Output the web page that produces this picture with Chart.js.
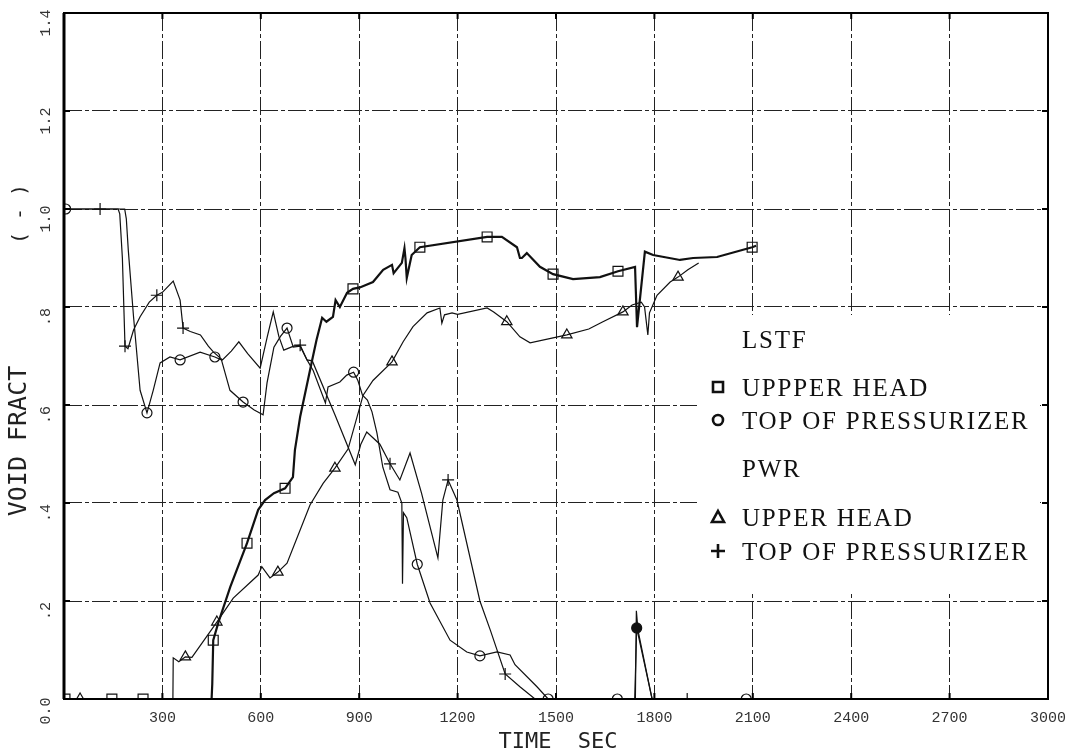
<!DOCTYPE html>
<html>
<head>
<meta charset="utf-8">
<script src="https://cdn.jsdelivr.net/npm/chart.js@4"></script>
<style>
  html, body { margin: 0; padding: 0; background: #fff; }
  canvas { display: block; }
</style>
</head>
<body>
<canvas id="voidChart" width="1072" height="753"></canvas>
<script>
// axis ticks
const xTicks = [0, 300, 600, 900, 1200, 1500, 1800, 2100, 2400, 2700, 3000];
const yTicks = [0, 0.2, 0.4, 0.6, 0.8, 1.0, 1.2, 1.4];

// LSTF upper head (squares)
const lstfHeadT = [0, 3, 146, 241, 450, 452, 455, 471, 507, 558, 592, 613, 640, 674, 698, 704, 720, 756, 770, 787, 800, 820, 828, 841, 863, 881, 902, 942, 973, 1000, 1005, 1030, 1038, 1041, 1045, 1060, 1085, 1290, 1335, 1381, 1390, 1396, 1411, 1451, 1491, 1552, 1634, 1689, 1741, 1747, 1771, 1796, 1878, 1918, 1991, 2098, 2110];
const lstfHeadV = [0, 0, 0, 0, 0, 0.03, 0.12, 0.157, 0.229, 0.318, 0.386, 0.406, 0.42, 0.43, 0.453, 0.508, 0.576, 0.69, 0.733, 0.778, 0.77, 0.78, 0.814, 0.80, 0.829, 0.837, 0.84, 0.851, 0.876, 0.886, 0.869, 0.89, 0.92, 0.90, 0.859, 0.906, 0.922, 0.943, 0.943, 0.922, 0.90, 0.90, 0.91, 0.882, 0.867, 0.857, 0.861, 0.873, 0.882, 0.759, 0.913, 0.906, 0.896, 0.90, 0.902, 0.922, 0.925];
const lstfHeadMarks = [3, 146, 241, 455, 558, 674, 881, 1085, 1290, 1491, 1689, 2098];

// LSTF top of pressurizer (circles)
const lstfPrzT = [0, 5, 185, 190, 196, 212, 232, 253, 272, 293, 323, 354, 415, 460, 480, 506, 546, 580, 607, 619, 640, 660, 680, 699, 720, 741, 760, 797, 805, 841, 862, 883, 896, 910, 925, 939, 954, 972, 994, 1018, 1030, 1032, 1035, 1045, 1077, 1116, 1177, 1228, 1268, 1320, 1360, 1375, 1442, 1476, 1687, 1740, 1746, 1793, 2080, 2100];
const lstfPrzV = [1, 1, 1, 0.98, 0.916, 0.78, 0.63, 0.584, 0.63, 0.686, 0.698, 0.692, 0.708, 0.698, 0.692, 0.63, 0.606, 0.59, 0.58, 0.645, 0.718, 0.74, 0.757, 0.718, 0.72, 0.692, 0.67, 0.604, 0.637, 0.647, 0.661, 0.667, 0.65, 0.62, 0.61, 0.586, 0.543, 0.473, 0.427, 0.422, 0.40, 0.235, 0.38, 0.37, 0.275, 0.196, 0.12, 0.096, 0.088, 0.096, 0.09, 0.07, 0.025, 0, 0, 0, 0.145, 0, 0, 0];
const lstfPrzMarks = [5, 253, 354, 460, 546, 680, 883, 1077, 1268, 1476, 1687, 1746, 2080];

// PWR upper head (triangles)
const pwrHeadT = [0, 49, 332, 333, 350, 370, 390, 466, 516, 592, 603, 628, 652, 680, 750, 790, 826, 866, 912, 942, 1000, 1034, 1064, 1107, 1146, 1152, 1160, 1183, 1200, 1290, 1310, 1350, 1390, 1421, 1491, 1533, 1600, 1643, 1704, 1732, 1760, 1770, 1780, 1785, 1808, 1848, 1872, 1902, 1935];
const pwrHeadV = [0, 0, 0, 0.084, 0.076, 0.086, 0.085, 0.157, 0.206, 0.253, 0.27, 0.247, 0.259, 0.277, 0.396, 0.44, 0.471, 0.51, 0.62, 0.65, 0.688, 0.729, 0.76, 0.788, 0.798, 0.767, 0.784, 0.788, 0.785, 0.798, 0.79, 0.77, 0.739, 0.727, 0.737, 0.743, 0.755, 0.77, 0.79, 0.804, 0.81, 0.80, 0.743, 0.788, 0.824, 0.851, 0.861, 0.876, 0.89];
const pwrHeadMarks = [49, 370, 466, 652, 826, 1000, 1350, 1533, 1704, 1872];

// PWR top of pressurizer (plus)
const pwrPrzT = [0, 110, 165, 170, 178, 186, 195, 212, 232, 260, 283, 300, 333, 354, 363, 385, 416, 440, 456, 483, 510, 533, 560, 598, 620, 638, 655, 670, 700, 720, 741, 757, 826, 888, 905, 923, 963, 994, 1024, 1055, 1090, 1140, 1155, 1171, 1198, 1268, 1300, 1345, 1390, 1436, 1742, 1745, 1750, 1793, 1900, 1950];
const pwrPrzV = [1, 1, 1, 0.99, 0.9, 0.72, 0.715, 0.753, 0.78, 0.81, 0.824, 0.83, 0.853, 0.814, 0.757, 0.75, 0.743, 0.72, 0.708, 0.692, 0.71, 0.729, 0.705, 0.675, 0.74, 0.79, 0.74, 0.712, 0.72, 0.722, 0.692, 0.69, 0.58, 0.478, 0.52, 0.545, 0.52, 0.48, 0.447, 0.502, 0.42, 0.288, 0.406, 0.447, 0.406, 0.2, 0.14, 0.051, 0.025, 0, 0, 0.18, 0.14, 0, 0, 0];
const pwrPrzMarks = [110, 186, 283, 363, 720, 994, 1171, 1345, 1900];

const legendRows = [
  { text: "LSTF", mark: null },
  { text: "UPPPER HEAD", mark: "rect" },
  { text: "TOP OF PRESSURIZER", mark: "circle" },
  { text: "PWR", mark: null },
  { text: "UPPER HEAD", mark: "triangle" },
  { text: "TOP OF PRESSURIZER", mark: "cross" }
];

function toPoints(ts, vs) {
  return ts.map((t, i) => ({ x: t, y: vs[i] }));
}

function series(label, ts, vs, marks, style, radius, width) {
  return {
    label,
    data: toPoints(ts, vs),
    showLine: true,
    borderColor: "#111",
    borderWidth: width,
    tension: 0,
    pointStyle: style,
    pointRadius: ctx => (ctx.raw && marks.includes(ctx.raw.x)) ? radius : 0,
    pointHoverRadius: 0,
    pointBorderColor: "#111",
    pointBorderWidth: 1.2,
    pointBackgroundColor: ctx => (ctx.raw && ctx.raw.x === 1746 && style === "circle") ? "#111" : "rgba(0,0,0,0)"
  };
}

const paperPlugin = {
  id: "paper",
  beforeDraw(chart) {
    const c = chart.ctx;
    c.save();
    c.fillStyle = "#fff";
    c.fillRect(0, 0, chart.width, chart.height);
    c.restore();
  },
  beforeDatasetsDraw(chart) {
    // legend box hides the grid behind it
    const c = chart.ctx;
    c.save();
    c.fillStyle = "#fff";
    c.fillRect(697, 315, 343, 278);
    c.restore();
  },
  afterDraw(chart) {
    const c = chart.ctx;
    const xs = chart.scales.x, ys = chart.scales.y;
    const a = chart.chartArea;
    c.save();

    // frame
    c.strokeStyle = "#000";
    c.lineWidth = 2;
    c.strokeRect(a.left, a.top, a.right - a.left, a.bottom - a.top);
    c.lineWidth = 3;
    c.beginPath();
    c.moveTo(a.left, a.top); c.lineTo(a.left, a.bottom);
    c.stroke();

    // inner tick marks
    c.lineWidth = 2;
    xs.ticks.forEach(tk => {
      const px = xs.getPixelForValue(tk.value);
      c.beginPath();
      c.moveTo(px, a.top); c.lineTo(px, a.top + 6);
      c.moveTo(px, a.bottom); c.lineTo(px, a.bottom - 6);
      c.stroke();
    });
    ys.ticks.forEach(tk => {
      const py = ys.getPixelForValue(tk.value);
      c.beginPath();
      c.moveTo(a.left, py); c.lineTo(a.left + 6, py);
      c.moveTo(a.right, py); c.lineTo(a.right - 6, py);
      c.stroke();
    });

    // x tick labels
    c.fillStyle = "#333";
    c.font = '15px "Liberation Mono"';
    c.textAlign = "center";
    c.textBaseline = "alphabetic";
    xs.ticks.forEach(tk => {
      if (tk.value === 0) return;
      c.fillText(String(tk.value), xs.getPixelForValue(tk.value), 722);
    });

    // y tick labels, rotated
    ys.ticks.forEach(tk => {
      const v = Math.round(tk.value * 10) / 10;
      let s = v.toFixed(1);
      if (v > 0 && v < 1) s = s.slice(1);
      const py = ys.getPixelForValue(tk.value);
      c.save();
      c.translate(46, py + (v === 0 ? 12 : 10));
      c.rotate(-Math.PI / 2);
      c.textBaseline = "middle";
      c.fillText(s, 0, 0);
      c.restore();
    });

    // axis titles
    c.fillStyle = "#222";
    c.font = '25px "DejaVu Sans Mono"';
    c.save();
    c.translate(19, 441);
    c.rotate(-Math.PI / 2);
    c.textBaseline = "middle";
    c.fillText("VOID FRACT", 0, 0);
    c.restore();

    c.font = '20px "DejaVu Sans Mono"';
    c.save();
    c.translate(21, 214);
    c.rotate(-Math.PI / 2);
    c.textBaseline = "middle";
    c.fillText("( - )", 0, 0);
    c.restore();

    c.font = '22px "DejaVu Sans Mono"';
    c.textBaseline = "alphabetic";
    c.fillText("TIME  SEC", 558, 748);

    // legend
    const baselines = [348, 396, 429, 477, 526, 560];
    c.font = '25px "Liberation Serif"';
    c.letterSpacing = "1.8px";
    c.textAlign = "left";
    c.fillStyle = "#111";
    c.strokeStyle = "#111";
    c.lineWidth = 2.6;
    legendRows.forEach((row, i) => {
      const by = baselines[i];
      c.fillText(row.text, 742, by);
      const mx = 718, my = by - 9;
      c.beginPath();
      if (row.mark === "rect") {
        c.rect(mx - 5, my - 5, 10, 10);
      } else if (row.mark === "circle") {
        c.arc(mx, my, 5, 0, Math.PI * 2);
      } else if (row.mark === "triangle") {
        c.moveTo(mx, my - 6); c.lineTo(mx + 6, my + 5); c.lineTo(mx - 6, my + 5); c.closePath();
      } else if (row.mark === "cross") {
        c.moveTo(mx - 7, my); c.lineTo(mx + 7, my);
        c.moveTo(mx, my - 7); c.lineTo(mx, my + 7);
      }
      if (row.mark) c.stroke();
    });
    c.restore();
  }
};

new Chart(document.getElementById("voidChart"), {
  type: "scatter",
  data: {
    datasets: [
      series("LSTF UPPPER HEAD", lstfHeadT, lstfHeadV, lstfHeadMarks, "rect", 7, 2.2),
      series("LSTF TOP OF PRESSURIZER", lstfPrzT, lstfPrzV, lstfPrzMarks, "circle", 5, 1.2),
      series("PWR UPPER HEAD", pwrHeadT, pwrHeadV, pwrHeadMarks, "triangle", 6, 1.2),
      series("PWR TOP OF PRESSURIZER", pwrPrzT, pwrPrzV, pwrPrzMarks, "cross", 6, 1.2)
    ]
  },
  options: {
    responsive: false,
    animation: false,
    devicePixelRatio: 1,
    layout: { autoPadding: false, padding: { left: 64, right: 24, top: 13, bottom: 54 } },
    plugins: { legend: { display: false }, tooltip: { enabled: false } },
    scales: {
      x: {
        type: "linear",
        min: xTicks[0],
        max: xTicks[xTicks.length - 1],
        afterBuildTicks: scale => { scale.ticks = xTicks.map(v => ({ value: v })); },
        ticks: { display: false },
        grid: { color: "#222", lineWidth: 1, drawTicks: false },
        border: { display: false, dash: [18, 3, 4, 3] }
      },
      y: {
        type: "linear",
        min: yTicks[0],
        max: yTicks[yTicks.length - 1],
        afterBuildTicks: scale => { scale.ticks = yTicks.map(v => ({ value: v })); },
        ticks: { display: false },
        grid: { color: "#222", lineWidth: 1, drawTicks: false },
        border: { display: false, dash: [18, 3, 4, 3] }
      }
    }
  },
  plugins: [paperPlugin]
});
</script>
</body>
</html>
